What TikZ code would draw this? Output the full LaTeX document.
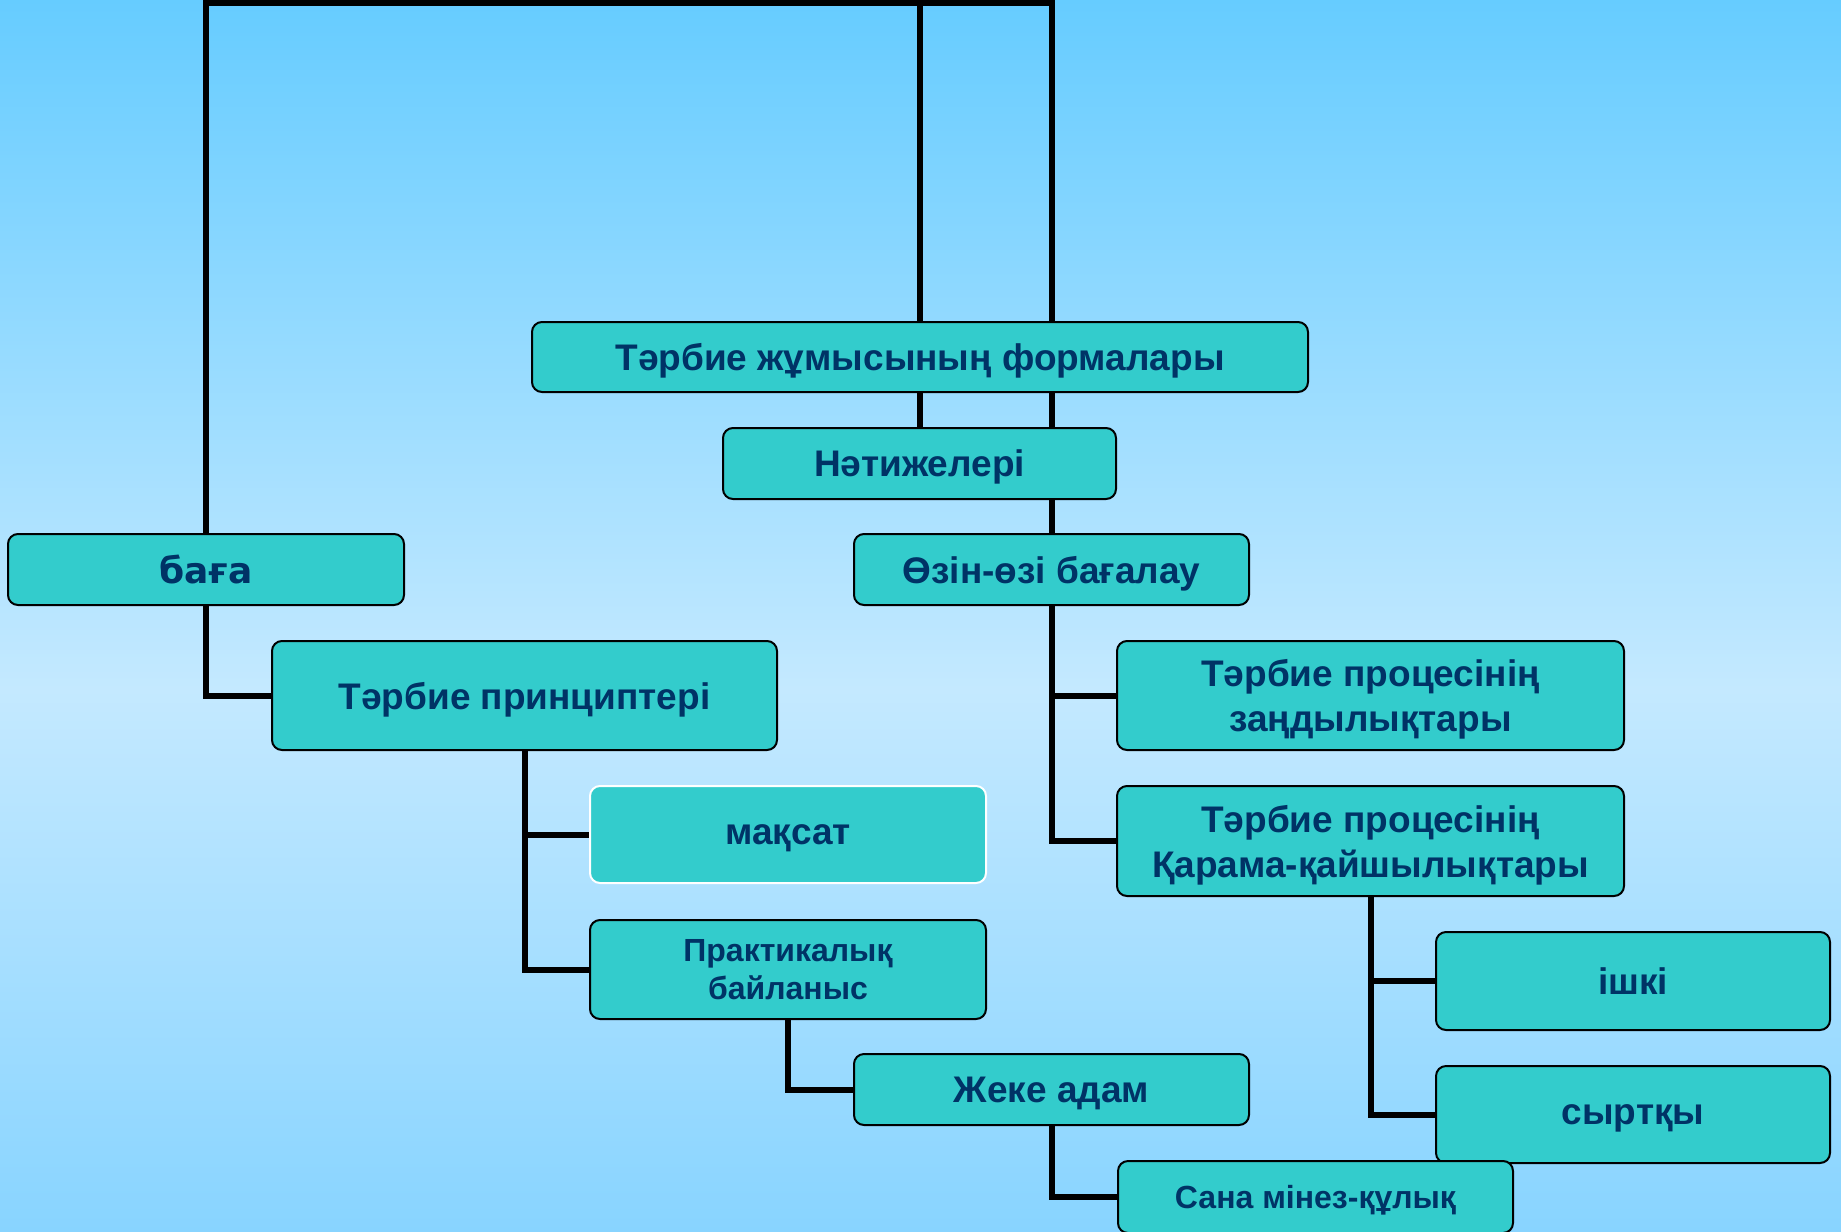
\documentclass[tikz,border=0pt]{standalone}
\usepackage{fontspec}
\setmainfont{Liberation Sans}
\newfontfamily\bagafont{DejaVu Sans}
\usetikzlibrary{backgrounds,calc}
\definecolor{boxfill}{HTML}{33CCCC}
\definecolor{boxtext}{HTML}{003366}
\definecolor{skytop}{HTML}{66CCFF}
\definecolor{skymid}{HTML}{C4E9FF}
\definecolor{skybot}{HTML}{88D4FF}
\pgfdeclareverticalshading{sky}{100bp}{color(0bp)=(skybot); color(25bp)=(skybot); color(47bp)=(skymid); color(75bp)=(skytop); color(100bp)=(skytop)}
\tikzset{
    block/.style = {draw, rectangle, rounded corners=10pt, fill=boxfill,
        text=boxtext, line width=2pt, anchor=north west, align=center,
        inner sep=0pt, text depth=0pt, font=\fontsize{37}{45}\selectfont\bfseries},
    smallblock/.style = {block, font=\fontsize{32}{38}\selectfont\bfseries},
    link/.style = {draw, line width=6pt, black}
}

\begin{document}
\begin{tikzpicture}[x=1pt, y=-1pt]
    \useasboundingbox (0,0) rectangle (1841,1231);
    % boxes
    \node [block, minimum width=776pt, minimum height=70pt] (forms) at (531,321) {Тәрбие жұмысының формалары};
    \node [block, minimum width=393pt, minimum height=71pt] (result) at (722,427) {Нәтижелері};
    \node [block, minimum width=396pt, minimum height=71pt, font=\fontsize{36}{44}\selectfont\bfseries\bagafont] (baga) at (7,533) {баға};
    \node [block, minimum width=395pt, minimum height=71pt] (self) at (853,533) {Өзін-өзі бағалау};
    \node [block, minimum width=505pt, minimum height=109pt] (princ) at (271,640) {Тәрбие принциптері};
    \node [block, minimum width=507pt, minimum height=109pt] (laws) at (1116,640) {Тәрбие процесінің\\заңдылықтары};
    \node [block, draw=white, minimum width=396pt, minimum height=97pt] (aim) at (589,785) {мақсат};
    \node [block, minimum width=507pt, minimum height=110pt] (contra) at (1116,785) {Тәрбие процесінің\\Қарама-қайшылықтары};
    \node [smallblock, minimum width=396pt, minimum height=99pt] (pract) at (589,919) {Практикалық\\байланыс};
    \node [block, minimum width=394pt, minimum height=98pt] (inner) at (1435,931) {ішкі};
    \node [block, minimum width=395pt, minimum height=71pt] (person) at (853,1053) {Жеке адам};
    \node [block, minimum width=394pt, minimum height=97pt] (outer) at (1435,1065) {сыртқы};
    \node [smallblock, minimum width=395pt, minimum height=72pt] (mind) at (1117,1160) {Сана мінез-құлық};
    \coordinate (top) at (919,3);

    \begin{scope}[on background layer]
        \shade [shading=sky] (0,0) rectangle (1841,1231);
        \draw [link] (baga.north) |- (top) -| (self.north);
        \draw [link] (result.north) -- (result.north |- top);
        \draw [link] (baga.south) |- (princ.west);
        \foreach \b in {aim,pract}{
            \draw [link] (princ.south) |- (\b.west);
        }
        \foreach \b in {laws,contra}{
            \draw [link] (self.south) |- (\b.west);
        }
        \foreach \b in {inner,outer}{
            \draw [link] (contra.south) |- (\b.west);
        }
        \draw [link] (pract.south) |- (person.west);
        \draw [link] (person.south) |- (mind.west);
    \end{scope}
\end{tikzpicture}
\end{document}
